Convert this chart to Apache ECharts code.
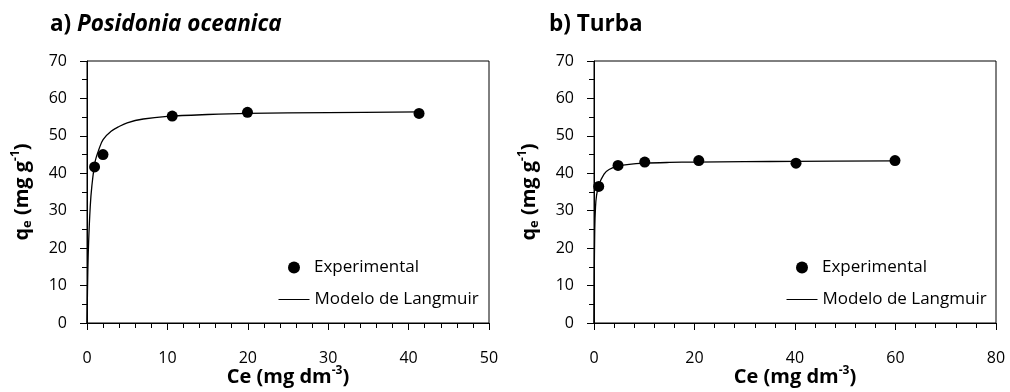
<!DOCTYPE html>
<html>
<head>
<meta charset="utf-8">
<script src="https://cdn.jsdelivr.net/npm/echarts@6/dist/echarts.min.js"></script>
<style>
html,body{margin:0;padding:0;background:#fff;}
#chart{width:1010px;height:392px;}
</style>
</head>
<body>
<div id="chart"></div>
<script>
// ---- Data ----
// a) Posidonia oceanica
var posExpC = [0.94, 1.99, 10.6, 19.96, 41.3];
var posExpQ = [41.7, 45.0, 55.3, 56.3, 56.0];
var posModC = [0, 0.1, 0.2, 0.4, 0.6, 1.0, 1.5, 2.0, 3.0, 4.0, 5.0, 7.0, 10.0, 15.0, 20.0, 30.0, 41.5];
var posModQ = [0, 13.5, 21.5, 31.0, 36.5, 43.0, 46.5, 49.0, 51.2, 52.5, 53.5, 54.5, 55.2, 55.7, 56.0, 56.2, 56.4];
// b) Turba
var turExpC = [0.94, 4.78, 10.1, 20.85, 40.2, 59.9];
var turExpQ = [36.5, 42.1, 43.0, 43.4, 42.7, 43.4];
var turModC = [0, 0.05, 0.15, 0.3, 0.5, 0.94, 2.0, 3.0, 4.8, 7.0, 10.0, 15.0, 20.0, 30.0, 40.0, 60.0];
var turModQ = [0, 12.0, 25.0, 31.0, 34.0, 36.8, 39.8, 41.0, 41.9, 42.4, 42.7, 42.9, 43.0, 43.1, 43.2, 43.3];
// Axis settings
var yTicks = [0, 10, 20, 30, 40, 50, 60, 70];
var xMaxA = 50, xIntA = 10;
var xMaxB = 80, xIntB = 20;
var titles = ['a) ', 'Posidonia oceanica', 'b) Turba'];
var legendNames = ['Experimental', 'Modelo de Langmuir'];

function pairs(xs, ys) { return xs.map(function (x, i) { return [x, ys[i]]; }); }

var FONT = 'Open Sans';
var rich = {
  b: { fontFamily: FONT, fontWeight: 'bold', fontSize: 20, color: '#000', lineHeight: 24, verticalAlign: 'middle' },
  sup: { fontFamily: FONT, fontWeight: 'bold', fontSize: 12, color: '#000', lineHeight: 24, verticalAlign: 'top', padding: [0, 0, 9, 0] },
  sub: { fontFamily: FONT, fontWeight: 'bold', fontSize: 13, color: '#000', lineHeight: 24, verticalAlign: 'bottom', padding: [6, 0, 0, 0] }
};

function xAxes(gi, max, interval) {
  return [{
    type: 'value', gridIndex: gi, min: 0, max: max, interval: interval,
    axisLine: { show: true, onZero: false, lineStyle: { color: '#000', width: 1 } },
    axisTick: { show: true, length: 7, lineStyle: { color: '#000' } },
    axisLabel: { color: '#000', fontFamily: FONT, fontSize: 16, margin: 27 },
    splitLine: { show: false },
    name: '{b|Ce (mg dm}{sup|-3}{b|)}', nameLocation: 'middle', nameGap: 42,
    nameMoveOverlap: false,
    nameTextStyle: { rich: rich }
  }, {
    type: 'value', gridIndex: gi, min: 0, max: max, interval: interval,
    axisLine: { show: false },
    axisTick: { show: false, inside: true },
    minorTick: { show: true, splitNumber: 5, length: 5, lineStyle: { color: '#000', width: 1 } },
    axisLabel: { show: false }, splitLine: { show: false }
  }];
}
function yAxes(gi) {
  return [{
    type: 'value', gridIndex: gi, min: 0, max: 70, interval: 10,
    axisLine: { show: true, onZero: false, lineStyle: { color: '#000', width: 1 } },
    axisTick: { show: true, length: 7, lineStyle: { color: '#000' } },
    axisLabel: { color: '#000', fontFamily: FONT, fontSize: 16, margin: 20,
      formatter: function (v) { return yTicks.indexOf(v) >= 0 ? String(v) : ''; } },
    splitLine: { show: false },
    name: '{b|q}{sub|e}{b| (mg g}{sup|-1}{b|)}', nameLocation: 'middle', nameGap: 53,
    nameRotate: 90, nameMoveOverlap: false,
    nameTextStyle: { rich: rich }
  }, {
    type: 'value', gridIndex: gi, min: 0, max: 70, interval: 10,
    axisLine: { show: false },
    axisTick: { show: false, inside: true },
    minorTick: { show: true, splitNumber: 2, length: 5, lineStyle: { color: '#000', width: 1 } },
    axisLabel: { show: false }, splitLine: { show: false }
  }];
}

var xa = xAxes(0, xMaxA, xIntA).concat(xAxes(1, xMaxB, xIntB));
var ya = yAxes(0).concat(yAxes(1));

function seriesFor(xi, yi, expC, expQ, modC, modQ) {
  return [{
    name: legendNames[1], type: 'line', xAxisIndex: xi, yAxisIndex: yi,
    data: pairs(modC, modQ), smooth: 0.35, symbol: 'none',
    lineStyle: { color: '#000', width: 1.3 }, itemStyle: { color: '#000' }, z: 2
  }, {
    name: legendNames[0], type: 'scatter', xAxisIndex: xi, yAxisIndex: yi,
    data: pairs(expC, expQ), symbol: 'circle', symbolSize: 11,
    itemStyle: { color: '#000', opacity: 1 }, z: 3
  }];
}

function legendPair(cx) {
  // cx: horizontal centre of the legend icons
  return [{
    orient: 'vertical', left: cx - 6 - 5, top: 254, itemWidth: 12, itemHeight: 12,
    textStyle: { fontFamily: FONT, fontSize: 17, color: '#000', lineHeight: 16, padding: [0, 0, 0, 9] },
    selectedMode: false,
    data: [{ name: legendNames[0], icon: 'circle', itemStyle: { color: '#000', opacity: 1 } }]
  }, {
    orient: 'vertical', left: cx - 15.5 - 5, top: 286, itemWidth: 31, itemHeight: 1,
    textStyle: { fontFamily: FONT, fontSize: 17, color: '#000', lineHeight: 16 },
    selectedMode: false,
    data: [{ name: legendNames[1], icon: 'rect', itemStyle: { color: '#000' } }]
  }];
}

var option = {
  backgroundColor: '#fff',
  animation: false,
  title: [{
    text: '{n|' + titles[0] + '}{i|' + titles[1] + '}', left: 45, top: 8,
    textStyle: { rich: {
      n: { fontFamily: FONT, fontWeight: 'bold', fontSize: 22.5, color: '#000' },
      i: { fontFamily: FONT, fontWeight: 'bold', fontStyle: 'italic', fontSize: 22.5, color: '#000' }
    } }
  }, {
    text: titles[2], left: 544, top: 8,
    textStyle: { fontFamily: FONT, fontWeight: 'bold', fontSize: 22.5, color: '#000' }
  }],
  grid: [
    { left: 87, right: 521, top: 61, bottom: 69, outerBoundsMode: 'none', show: true, borderColor: '#000', borderWidth: 1, backgroundColor: 'transparent' },
    { left: 594, right: 14, top: 61, bottom: 69, outerBoundsMode: 'none', show: true, borderColor: '#000', borderWidth: 1, backgroundColor: 'transparent' }
  ],
  xAxis: xa,
  yAxis: ya,
  legend: legendPair(294).concat(legendPair(802)),
  series: seriesFor(0, 0, posExpC, posExpQ, posModC, posModQ)
    .concat(seriesFor(2, 2, turExpC, turExpQ, turModC, turModQ))
};

var chart = echarts.init(document.getElementById('chart'), null, { renderer: 'canvas' });
chart.setOption(option);
</script>
</body>
</html>
